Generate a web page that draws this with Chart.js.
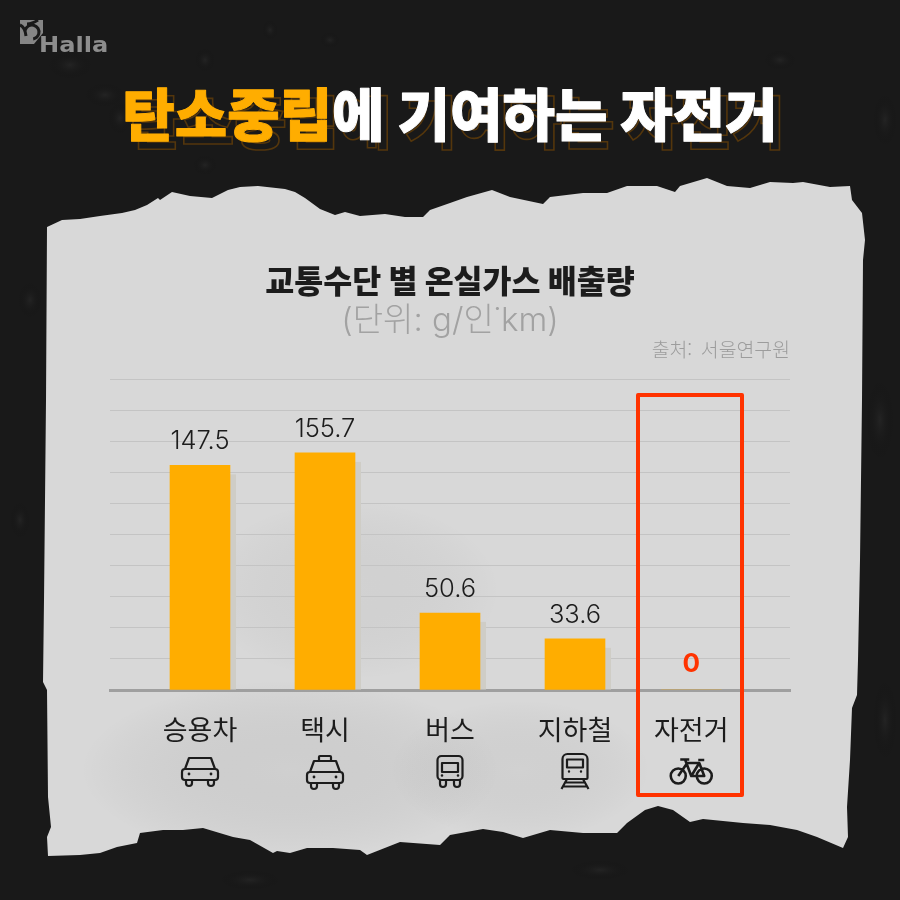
<!DOCTYPE html>
<html lang="ko">
<head>
<meta charset="utf-8">
<title>탄소중립에 기여하는 자전거</title>
<script src="https://cdn.jsdelivr.net/npm/chart.js@4"></script>
<style>
  html, body { margin: 0; padding: 0; background: #191919; }
  canvas { display: block; }
</style>
</head>
<body>
<canvas id="chart" width="900" height="900"></canvas>
<script>
// chart values
const categories = ["승용차", "택시", "버스", "지하철", "자전거"];
const emissions = [147.5, 155.7, 50.6, 33.6, 0];
const valueLabels = ["147.5", "155.7", "50.6", "33.6", "0"];

const KR = '"Noto Sans CJK KR"';
const ORANGE = "#ffad00";
const RED = "#ff3300";
const INK = "#1c1c1c";

// the last column sits a little closer than the others in the original
const slots = categories.map((_, i) => (i === 4 ? 3.93 : i));

// torn paper outline, traced by hand
const paperEdge = [
  [47,227],[62,220],[80,219],[100,216],[122,213],[135,210],[147,205],[158,198],[160,200],[172,192],
  [190,196],[212,198],[228,190],[240,187],[258,186],[285,189],[295,192],[305,198],[320,209],[335,215],
  [345,212],[360,216],[385,214],[405,217],[423,217],[430,210],[450,203],[467,197],[492,190],[510,197],
  [543,204],[550,197],[583,193],[607,193],[627,186],[657,186],[675,192],[680,186],[707,178],[727,186],
  [750,188],[770,182],[793,183],[803,182],[830,187],[850,186],[852,200],[862,213],[865,240],[863,260],
  [862,400],[860,560],[858,660],[857,695],[852,708],[850,760],[847,807],[848,837],[843,848],
  [817,837],[797,830],[770,825],[743,823],[723,821],[703,819],[690,822],[673,810],[658,806],[645,810],
  [627,823],[617,833],[583,833],[550,830],[523,838],[503,832],[483,829],[450,835],[440,845],[400,842],
  [367,855],[360,850],[333,848],[307,848],[290,853],[277,851],[273,853],[250,840],[233,837],[203,828],
  [183,830],[163,830],[140,833],[137,843],[117,847],[100,853],[80,855],[48,856],[47,837],[51,827],
  [48,797],[47,690],[43,682],[44,600],[46,400]
];

// faint lighter smudges on the dark background
const smudges = [
  [70,65,22,14],[105,95,20,12],[120,118,12,16],[205,60,10,12],[270,30,8,10],[330,40,10,8],
  [205,165,12,10],[30,300,12,18],[20,520,10,18],[885,120,12,26],[880,420,14,40],[885,720,12,40],
  [60,780,16,24],[250,880,30,10],[600,870,30,10],[780,60,16,10]
];

function tracePoly(ctx, pts) {
  ctx.beginPath();
  pts.forEach((p, i) => (i ? ctx.lineTo(p[0], p[1]) : ctx.moveTo(p[0], p[1])));
  ctx.closePath();
}

function blotch(ctx, x, y, rx, ry, color) {
  ctx.save();
  ctx.translate(x, y);
  ctx.scale(rx, ry);
  const g = ctx.createRadialGradient(0, 0, 0, 0, 0, 1);
  g.addColorStop(0, color);
  g.addColorStop(1, "rgba(0,0,0,0)");
  ctx.fillStyle = g;
  ctx.beginPath();
  ctx.arc(0, 0, 1, 0, Math.PI * 2);
  ctx.fill();
  ctx.restore();
}

function drawHeadline(ctx) {
  const first = "탄소중립";
  const rest = "에 기여하는 자전거";
  ctx.save();
  ctx.font = "900 57px " + KR;
  ctx.textAlign = "left";
  ctx.textBaseline = "alphabetic";
  const w1 = ctx.measureText(first).width;
  const w2 = ctx.measureText(rest).width;
  const x = 450 - (w1 + w2) / 2;
  const y = 136;
  // brown outline echo behind the title
  ctx.strokeStyle = "#54360c";
  ctx.lineWidth = 1.6;
  ctx.strokeText(first + rest, x + 7, y + 8);
  ctx.lineJoin = "round";
  ctx.lineWidth = 1;
  ctx.fillStyle = ORANGE;
  ctx.strokeStyle = ORANGE;
  ctx.fillText(first, x, y);
  ctx.strokeText(first, x, y);
  ctx.fillStyle = "#fff";
  ctx.strokeStyle = "#fff";
  ctx.fillText(rest, x + w1, y);
  ctx.strokeText(rest, x + w1, y);
  ctx.restore();
}

function drawLogo(ctx) {
  ctx.save();
  ctx.fillStyle = "#858585";
  ctx.beginPath();
  ctx.moveTo(20, 20); ctx.lineTo(43, 20); ctx.lineTo(43, 33); ctx.lineTo(34, 44); ctx.lineTo(20, 44);
  ctx.closePath();
  ctx.fill();
  // swirl cut into the mark
  ctx.strokeStyle = "#191919";
  ctx.lineWidth = 3;
  ctx.beginPath();
  ctx.arc(32, 32, 7, -2.9, 1.4);
  ctx.stroke();
  ctx.beginPath();
  ctx.moveTo(20, 25); ctx.quadraticCurveTo(25, 27, 26, 36);
  ctx.moveTo(38, 20); ctx.quadraticCurveTo(32, 24, 27, 24);
  ctx.stroke();
  ctx.translate(39, 52);
  ctx.scale(1.15, 1);
  ctx.font = 'bold 21px "DejaVu Sans"';
  ctx.fillStyle = "#8d8d8d";
  ctx.textAlign = "left";
  ctx.textBaseline = "alphabetic";
  ctx.fillText("Halla", 0, 0);
  ctx.restore();
}

const backdrop = {
  id: "backdrop",
  beforeDraw(chart) {
    const ctx = chart.ctx;
    ctx.save();
    ctx.fillStyle = "#191919";
    ctx.fillRect(0, 0, 900, 900);
    smudges.forEach((s) => blotch(ctx, s[0], s[1], s[2], s[3], "rgba(60,60,60,0.3)"));
    tracePoly(ctx, paperEdge);
    ctx.fillStyle = "#d8d8d8";
    ctx.fill();
    ctx.clip();
    blotch(ctx, 290, 770, 210, 90, "rgba(150,150,150,0.13)");
    blotch(ctx, 520, 770, 130, 70, "rgba(150,150,150,0.1)");
    blotch(ctx, 350, 590, 150, 90, "rgba(150,150,150,0.09)");
    ctx.restore();
    drawLogo(ctx);
    drawHeadline(ctx);
  }
};

// bar shadows sit behind the bars, a bit to the right and lower
const barShadow = {
  id: "barShadow",
  beforeDatasetsDraw(chart) {
    const ctx = chart.ctx;
    ctx.save();
    ctx.fillStyle = "#cfcdc6";
    chart.getDatasetMeta(0).data.forEach((bar) => {
      const h = bar.base - bar.y - 9;
      if (h > 0) ctx.fillRect(bar.x + 30, bar.y + 9, 6, h);
    });
    ctx.restore();
  }
};

const barValues = {
  id: "barValues",
  afterDatasetsDraw(chart) {
    const ctx = chart.ctx;
    ctx.save();
    ctx.textAlign = "center";
    ctx.textBaseline = "alphabetic";
    chart.getDatasetMeta(0).data.forEach((bar, i) => {
      const zero = emissions[i] === 0;
      ctx.font = zero ? "bold 26px Inter" : "300 25.5px Inter";
      ctx.fillStyle = zero ? RED : INK;
      ctx.fillText(valueLabels[i], bar.x, bar.y - (zero ? 18 : 16));
    });
    ctx.restore();
  }
};

// line icons under the tick labels
function carShape(ctx, cx, top) {
  ctx.beginPath();
  ctx.moveTo(cx - 15, top + 11); ctx.lineTo(cx - 11, top); ctx.lineTo(cx + 11, top); ctx.lineTo(cx + 15, top + 11);
  ctx.moveTo(cx - 15, top + 11); ctx.lineTo(cx + 15, top + 11);
  ctx.stroke();
  ctx.beginPath();
  ctx.roundRect(cx - 18, top + 11, 36, 11, 3);
  ctx.stroke();
  ctx.beginPath();
  ctx.roundRect(cx - 14, top + 22, 6, 6, [0, 0, 3, 3]);
  ctx.roundRect(cx + 8, top + 22, 6, 6, [0, 0, 3, 3]);
  ctx.stroke();
  ctx.beginPath();
  ctx.arc(cx - 11, top + 16, 1.4, 0, Math.PI * 2);
  ctx.arc(cx + 11, top + 16, 1.4, 0, Math.PI * 2);
  ctx.fill();
}

const iconDraw = [
  (ctx, cx) => carShape(ctx, cx, 758),
  (ctx, cx) => {
    carShape(ctx, cx, 761);
    ctx.beginPath();
    ctx.roundRect(cx - 6, 756, 12, 5, 1);
    ctx.stroke();
  },
  (ctx, cx) => {
    ctx.beginPath();
    ctx.roundRect(cx - 12.5, 756, 25, 24, 4);
    ctx.rect(cx - 8, 763, 16, 9);
    ctx.stroke();
    ctx.beginPath();
    ctx.roundRect(cx - 10, 780, 6, 7, [0, 0, 3, 3]);
    ctx.roundRect(cx + 4, 780, 6, 7, [0, 0, 3, 3]);
    ctx.stroke();
    ctx.beginPath();
    ctx.arc(cx - 8, 775.5, 1.3, 0, Math.PI * 2);
    ctx.arc(cx + 8, 775.5, 1.3, 0, Math.PI * 2);
    ctx.fill();
  },
  (ctx, cx) => {
    ctx.beginPath();
    ctx.roundRect(cx - 12.5, 754, 25, 25, [5, 5, 1, 1]);
    ctx.rect(cx - 8, 759.5, 16, 8);
    ctx.moveTo(cx - 8, 779); ctx.lineTo(cx - 13.5, 789);
    ctx.moveTo(cx + 8, 779); ctx.lineTo(cx + 13.5, 789);
    ctx.moveTo(cx - 10, 782.5); ctx.lineTo(cx + 10, 782.5);
    ctx.moveTo(cx - 12, 786.5); ctx.lineTo(cx + 12, 786.5);
    ctx.stroke();
    ctx.beginPath();
    ctx.arc(cx - 6, 771.5, 1.2, 0, Math.PI * 2);
    ctx.arc(cx + 6, 771.5, 1.2, 0, Math.PI * 2);
    ctx.fill();
  },
  (ctx, cx) => {
    ctx.lineWidth = 2.6;
    ctx.beginPath();
    ctx.arc(cx - 13, 776, 7.5, 0, Math.PI * 2);
    ctx.moveTo(cx + 20.5, 776);
    ctx.arc(cx + 13, 776, 7.5, 0, Math.PI * 2);
    ctx.moveTo(cx - 13, 776); ctx.lineTo(cx - 4, 763); ctx.lineTo(cx + 8, 763); ctx.lineTo(cx + 13, 776);
    ctx.lineTo(cx, 776); ctx.lineTo(cx - 6, 760);
    ctx.moveTo(cx, 776); ctx.lineTo(cx + 8, 763);
    ctx.moveTo(cx + 7, 760); ctx.lineTo(cx + 13, 760);
    ctx.moveTo(cx - 11, 759.5); ctx.lineTo(cx - 2, 759.5);
    ctx.stroke();
  }
];

const overlay = {
  id: "overlay",
  afterDraw(chart) {
    const ctx = chart.ctx;
    const x = chart.scales.x;
    ctx.save();
    ctx.strokeStyle = INK;
    ctx.fillStyle = INK;
    ctx.lineWidth = 2.2;
    ctx.lineJoin = "round";
    slots.forEach((s, i) => iconDraw[i](ctx, x.getPixelForValue(s)));

    // red box around the bicycle column
    ctx.strokeStyle = RED;
    ctx.lineWidth = 4;
    ctx.strokeRect(638, 395, 104, 400);

    // source note, top right of the plot
    ctx.font = "300 19.4px " + KR;
    ctx.fillStyle = "#9c9c9c";
    ctx.textAlign = "right";
    ctx.textBaseline = "alphabetic";
    ctx.fillText("출처:  서울연구원", chart.chartArea.right, 357);
    ctx.restore();
  }
};

new Chart(document.getElementById("chart"), {
  type: "bar",
  data: {
    datasets: [
      {
        label: "온실가스 배출량",
        data: emissions.map((v, i) => ({ x: slots[i], y: v })),
        backgroundColor: ORANGE,
        borderWidth: 0,
        barThickness: 60
      }
    ]
  },
  options: {
    responsive: false,
    animation: false,
    layout: { padding: { top: 262, left: 110, right: 110, bottom: 0 } },
    plugins: {
      legend: { display: false },
      tooltip: { enabled: false },
      title: {
        display: true,
        text: "교통수단 별 온실가스 배출량",
        color: INK,
        font: { family: KR, size: 31.5, weight: "900" },
        padding: { top: 0, bottom: 0 }
      },
      subtitle: {
        display: true,
        text: "(단위: g/인˙km)",
        color: "#a2a2a2",
        font: { family: 'Inter, ' + KR, size: 33, weight: "300" },
        padding: { top: 1, bottom: 39 }
      }
    },
    scales: {
      x: {
        type: "linear",
        offset: false,
        min: -0.72,
        max: 4.72,
        grid: { display: false },
        border: { color: "#9f9f9f", width: 3 },
        afterBuildTicks: (scale) => {
          scale.ticks = slots.map((v) => ({ value: v }));
        },
        afterFit: (scale) => {
          scale.height = 210;
        },
        ticks: {
          autoSkip: false,
          maxRotation: 0,
          padding: 16,
          color: INK,
          font: { family: KR, size: 27, weight: "400" },
          callback: (v, i) => categories[i]
        }
      },
      y: {
        min: 0,
        max: 204,
        grid: { color: "#c4c4c4", lineWidth: 1, drawTicks: false },
        border: { display: false },
        ticks: { display: false, stepSize: 20.4 }
      }
    }
  },
  plugins: [backdrop, barShadow, barValues, overlay]
});
</script>
</body>
</html>
